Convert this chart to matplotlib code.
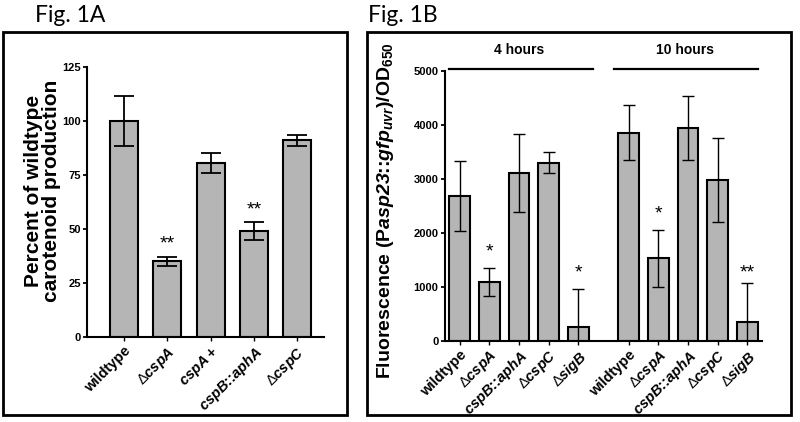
import numpy as np
import matplotlib
matplotlib.use("Agg")
import matplotlib.pyplot as plt
from matplotlib.patches import Rectangle

plt.rcParams['font.family'] = ['Liberation Sans', 'DejaVu Sans']
plt.rcParams['mathtext.fontset'] = 'custom'
plt.rcParams['mathtext.rm'] = 'Liberation Sans'
plt.rcParams['mathtext.it'] = 'Liberation Sans:italic'
plt.rcParams['mathtext.bf'] = 'Liberation Sans:bold'
plt.rcParams['mathtext.bfit'] = 'Liberation Sans:bold:italic'

# Fig 1A data
a_labels = ['wildtype', r'$\Delta\mathbfit{cspA}$', r'$\mathbfit{cspA+}$',
            r'$\mathbfit{cspB}$::$\mathbfit{aphA}$', r'$\Delta\mathbfit{cspC}$']
a_values = [100, 35, 80.5, 49, 91]
a_err = [11.5, 2, 4.7, 4, 2.5]
a_stars = ['', '**', '', '**', '']
a_star_y = [0, 39, 0, 55, 0]

# Fig 1B data
b_strains = ['wildtype', r'$\Delta\mathbfit{cspA}$', r'$\mathbfit{cspB}$::$\mathbfit{aphA}$',
             r'$\Delta\mathbfit{cspC}$', r'$\Delta\mathbfit{sigB}$']
b_4h = [2680, 1085, 3110, 3300, 260]
b_4h_err = [650, 255, 725, 200, 690]
b_10h = [3850, 1525, 3935, 2975, 340]
b_10h_err = [510, 530, 595, 780, 720]
b_4h_stars = ['', '*', '', '', '*']
b_10h_stars = ['', '*', '', '', '**']
b_4h_star_y = [0, 1480, 0, 0, 1100]
b_10h_star_y = [0, 2190, 0, 0, 1100]

fig = plt.figure(figsize=(8, 4.22), dpi=100)

bar_color = '#b5b5b5'

# panel frames and titles
fig.patches.append(Rectangle((3 / 800, 1 - 415 / 422), 344 / 800, 383 / 422,
                             transform=fig.transFigure, fill=False, lw=2, ec='black'))
fig.patches.append(Rectangle((367 / 800, 1 - 415 / 422), 424 / 800, 383 / 422,
                             transform=fig.transFigure, fill=False, lw=2, ec='black'))
fig.text(35 / 800, 1 - 16 / 422, 'Fig. 1A', fontsize=16.5, family='Lato', va='center')
fig.text(368 / 800, 1 - 16 / 422, 'Fig. 1B', fontsize=16.5, family='Lato', va='center')

# ---- Fig 1A ----
ax1 = fig.add_axes([0.109, 0.2014, 0.296, 0.640])
xa = np.arange(len(a_values))
ax1.bar(xa, a_values, width=0.65, color=bar_color, edgecolor='black', linewidth=1.5, zorder=2)
ax1.errorbar(xa, a_values, yerr=a_err, fmt='none', ecolor='black', elinewidth=1.3,
             capsize=7, capthick=1.3, zorder=3)
for x, s, y in zip(xa, a_stars, a_star_y):
    if s:
        ax1.text(x, y, s, ha='center', va='bottom', fontsize=14)
ax1.set_xlim(-0.85, 4.62)
ax1.set_ylim(0, 125)
ax1.set_yticks([0, 25, 50, 75, 100, 125])
ax1.set_xticks(xa)
ax1.set_xticklabels(a_labels, rotation=45, ha='right', rotation_mode='anchor',
                    fontsize=10.5, fontweight='bold')
ax1.set_ylabel('Percent of wildtype\ncarotenoid production', fontsize=15,
               fontweight='bold', linespacing=0.95)
ax1.yaxis.set_label_coords(-0.11, 0.54)

# ---- Fig 1B ----
ax2 = fig.add_axes([0.556, 0.193, 0.396, 0.639])
x4 = np.arange(5)
x10 = np.arange(5) + 5.7
ax2.bar(x4, b_4h, width=0.7, color=bar_color, edgecolor='black', linewidth=1.5, zorder=2)
ax2.bar(x10, b_10h, width=0.7, color=bar_color, edgecolor='black', linewidth=1.5, zorder=2)
ax2.errorbar(x4, b_4h, yerr=b_4h_err, fmt='none', ecolor='black', elinewidth=1.0,
             capsize=4.5, capthick=1.0, zorder=3)
ax2.errorbar(x10, b_10h, yerr=b_10h_err, fmt='none', ecolor='black', elinewidth=1.0,
             capsize=4.5, capthick=1.0, zorder=3)
for xs, stars, ys in [(x4, b_4h_stars, b_4h_star_y), (x10, b_10h_stars, b_10h_star_y)]:
    for x, s, y in zip(xs, stars, ys):
        if s:
            ax2.text(x, y, s, ha='center', va='bottom', fontsize=14)
ax2.set_xlim(-0.5, 10.18)
ax2.set_ylim(0, 5000)
ax2.set_yticks(np.arange(0, 5001, 1000))
ax2.set_xticks(np.concatenate([x4, x10]))
ax2.set_xticklabels(b_strains + b_strains, rotation=45, ha='right', rotation_mode='anchor',
                    fontsize=10.5, fontweight='bold')
ax2.set_ylabel(r'Fluorescence (P$\mathbfit{asp23}$::$\mathbfit{gfp}_{\mathbfit{uvr}}$)/OD$_{\mathbf{650}}$',
               fontsize=14, fontweight='bold')
ax2.yaxis.set_label_coords(-0.155, 0.48)
ax2.plot([-0.35, 4.5], [5030, 5030], color='black', lw=1.6, clip_on=False)
ax2.plot([5.2, 10.05], [5030, 5030], color='black', lw=1.6, clip_on=False)
ax2.text(2.0, 5250, '4 hours', ha='center', va='bottom', fontsize=10, fontweight='bold')
ax2.text(7.6, 5250, '10 hours', ha='center', va='bottom', fontsize=10, fontweight='bold')

for ax in (ax1, ax2):
    ax.spines['top'].set_visible(False)
    ax.spines['right'].set_visible(False)
    ax.spines['left'].set_linewidth(1.5)
    ax.spines['bottom'].set_linewidth(1.5)
    ax.tick_params(axis='y', length=3, width=1.3, labelsize=8, pad=1.5)
    ax.tick_params(axis='x', length=3, width=1.0, pad=2)
    for t in ax.get_yticklabels():
        t.set_fontweight('bold')

fig.savefig('out.png', dpi=100)
